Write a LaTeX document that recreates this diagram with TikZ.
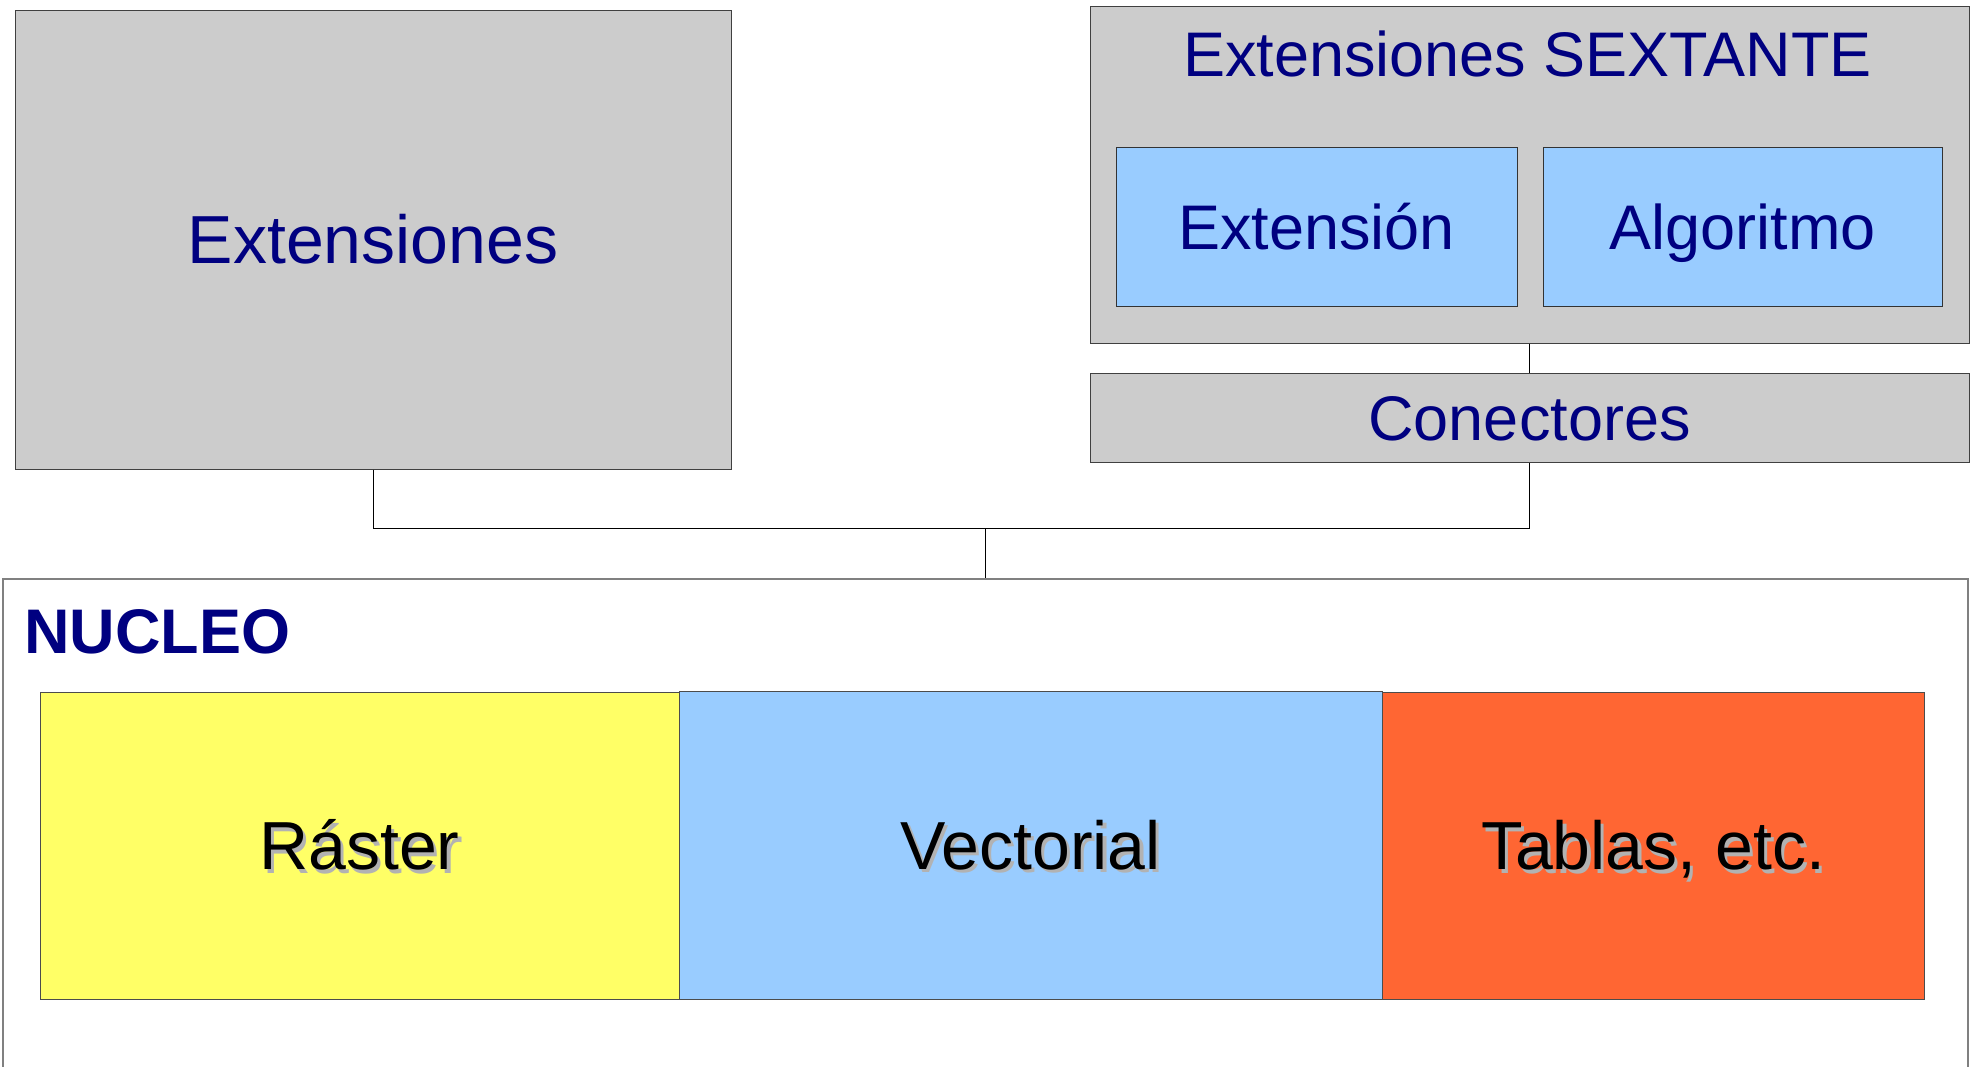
\documentclass[tikz,border=0pt]{standalone}
\usepackage{fontspec}
\setmainfont{Liberation Sans}
\usetikzlibrary{positioning}
\definecolor{boxgray}{RGB}{204,204,204}
\definecolor{skyblue}{RGB}{153,204,255}
\definecolor{lemon}{RGB}{255,255,102}
\definecolor{tomato}{RGB}{255,102,51}
\definecolor{navytext}{RGB}{0,0,128}
\definecolor{shadowgray}{RGB}{178,178,178}
\newcommand{\shadowtxt}[1]{\rlap{\hspace{1.6pt}\raisebox{-1.6pt}{\color{shadowgray}#1}}#1}
\tikzset{
    greybox/.style = {rectangle, draw=black!75, line width=0.5pt, fill=boxgray, inner sep=0pt},
    bluebox/.style = {rectangle, draw=black!80, line width=0.5pt, fill=skyblue, inner sep=0pt},
    corebox/.style = {rectangle, draw=black!50, line width=1pt, fill=white, inner sep=0pt},
    partbox/.style = {rectangle, draw=black!70, line width=0.5pt, inner sep=0pt,
        font=\fontsize{34pt}{40pt}\selectfont, text height=24.3pt, text depth=0pt},
    bigtxt/.style = {text=navytext, font=\fontsize{34pt}{40pt}\selectfont, text height=24.3pt, text depth=0pt},
    midtxt/.style = {text=navytext, font=\fontsize{31.5pt}{36pt}\selectfont, text height=22.6pt, text depth=0pt},
    link/.style = {draw=black, line width=0.5pt}
}
\begin{document}
\begin{tikzpicture}[x=0.5pt, y=-0.5pt]
\useasboundingbox (0, 0) rectangle (1975, 1066);
\clip (0, 0) rectangle (1975, 1066);
%
\node[corebox, minimum width=982.5pt, minimum height=260.5pt] at (985.5, 839.5) (nucleo) {};
\node[anchor=base west, inner sep=0pt, text=navytext, font=\fontsize{31.5pt}{36pt}\selectfont\bfseries] at (24, 653) (nucleotit) {NUCLEO};
%
\node[greybox, bigtxt, minimum width=358pt, minimum height=229.5pt] at (373, 239.5) (ext) {Extensiones};
\node[greybox, minimum width=439.5pt, minimum height=168.5pt] at (1529.5, 174.5) (sext) {};
\node[midtxt, anchor=base, inner sep=0pt, text height=, text depth=] at (1527.5, 76.5) (sexttit) {Extensiones SEXTANTE};
\node[bluebox, midtxt, minimum width=200.5pt, minimum height=79.5pt] at (1316.5, 226.5) (extn) {Extensión};
\node[bluebox, midtxt, minimum width=199.5pt, minimum height=79.5pt] at (1742.5, 226.5) (algo) {Algoritmo};
\node[greybox, midtxt, minimum width=439.5pt, minimum height=44.5pt] at (1529.5, 417.5) (conn) {Conectores};
%
\node[partbox, fill=lemon, minimum width=319.5pt, minimum height=153.5pt] at (359.5, 845.5) (raster) {\shadowtxt{Ráster}};
\node[partbox, fill=skyblue, minimum width=351.5pt, minimum height=154pt] at (1030.5, 845) (vector) {\shadowtxt{Vectorial}};
\node[partbox, fill=tomato, minimum width=271pt, minimum height=153.5pt] at (1653, 845.5) (tablas) {\shadowtxt{Tablas, etc.}};
%
\coordinate (bus) at (985, 528.5);
\draw[link] (sext.south) -- (conn.north);
\draw[link] (ext.south) |- (bus) -| (conn.south);
\draw[link] (bus) -- (bus |- nucleo.north);

\end{tikzpicture}
\end{document}
